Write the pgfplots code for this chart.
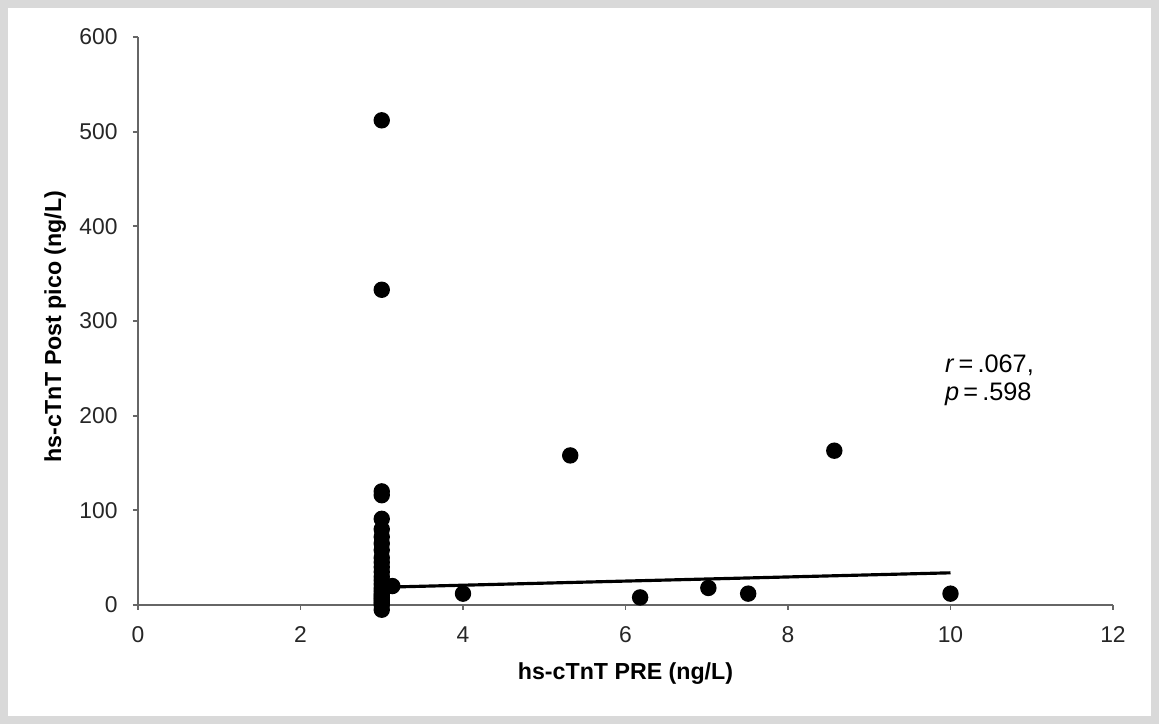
\documentclass[border=0pt]{standalone}
\usepackage{pgfplots}
\pgfplotsset{compat=1.18}
\usepackage{fontspec}
\setmainfont{Liberation Sans}
\begin{document}
\begin{tikzpicture}[x=1cm,y=1cm]
\useasboundingbox (-1.38,-1.19) rectangle (10.21,6.05);
\draw[black!15, line width=0.08cm] (-1.34,-1.15) rectangle (10.17,6.01);
\begin{axis}[
  at={(0,0)}, anchor=south west,
  scale only axis, width=9.75cm, height=5.68cm,
  xmin=0, xmax=12, ymin=0, ymax=600,
  axis x line*=bottom, axis y line*=left,
  axis line style={black!60, line width=0.6pt},
  xtick={0,2,...,12}, ytick={0,100,...,600},
  tick align=outside, major tick length=0.05cm,
  tick style={black!60, line width=0.5pt},
  /pgf/number format/assume math mode=true,
  tick label style={font=\fontsize{6.5}{7}\selectfont, text=black!85},
  yticklabel shift=0.03cm, xticklabel shift=0.04cm,
  xlabel={hs-cTnT PRE (ng/L)},
  ylabel={hs-cTnT Post pico (ng/L)},
  label style={font=\bfseries\fontsize{6.6}{7}\selectfont},
  xlabel style={at={(axis description cs:0.5,-0.12)}, anchor=center},
  ylabel style={at={(axis description cs:-0.085,0.49)}, anchor=center},
  clip=false,
]
\addplot[only marks, mark=*, mark size=0.075cm, mark options={fill=black, draw=black}] coordinates {
 (3,512) (3,333) (3,120) (3,116) (3,91) (3,80) (3,72) (3,65) (3,58) (3,50)
 (3,45) (3,40) (3,35) (3,30) (3,26) (3,22) (3,18) (3,15) (3,12) (3,10)
 (3,8) (3,6) (3,4) (3,2) (3,0) (3,-5) (3.13,20)
 (4.0,12) (5.32,158) (6.18,8) (7.02,18) (7.51,12) (8.57,163) (10,12)
};
\addplot[black, line width=0.9pt] coordinates {(3.13,19) (10,34)};
\node[anchor=west, font=\fontsize{7.2}{8}\selectfont, align=left] at (axis cs:9.78,237) {\textit{r}\,=\,.067,\\\textit{p}\,=\,.598};
\end{axis}
\end{tikzpicture}
\end{document}
